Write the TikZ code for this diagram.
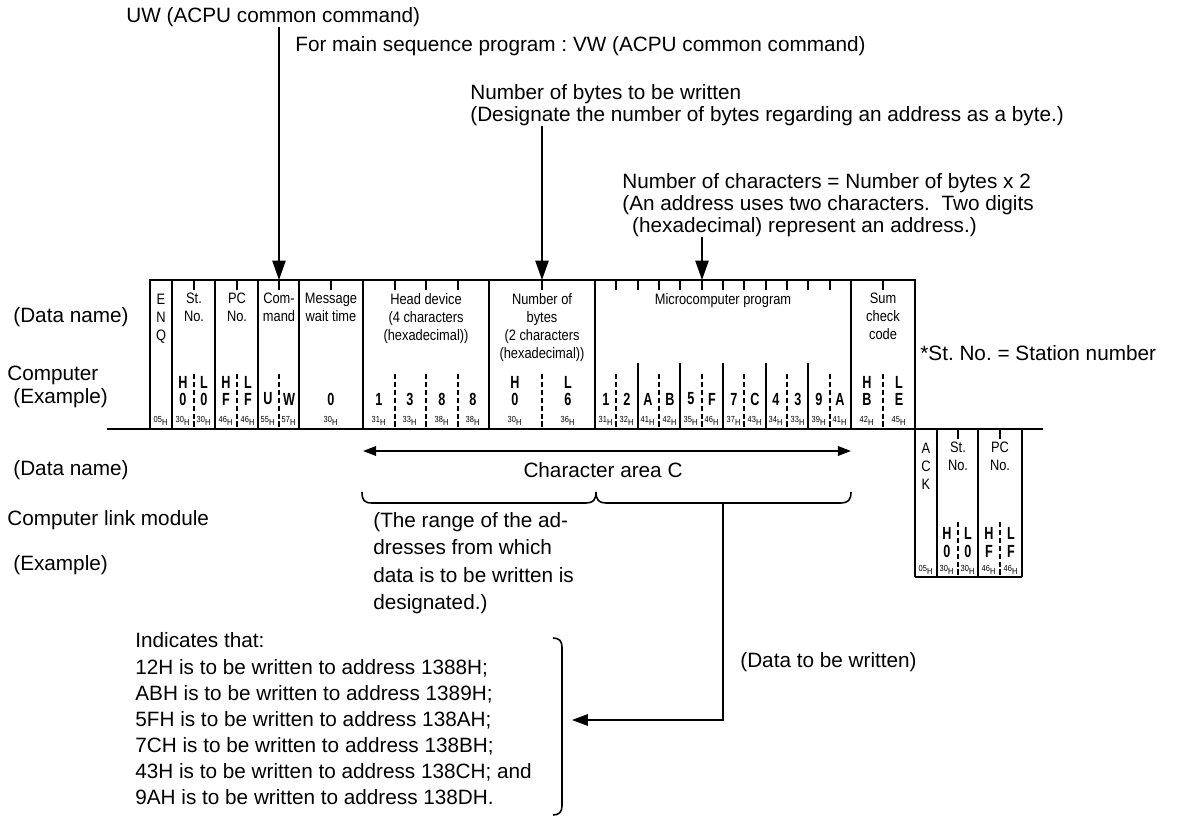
\documentclass[tikz,border=0pt]{standalone}
\usepackage{fontspec}
\setmainfont{Liberation Sans}
\newfontfamily\condfont[FakeStretch=0.85]{Liberation Sans}
\newfontfamily\narrowfont[FakeStretch=0.72]{Liberation Sans}
\usetikzlibrary{arrows.meta}
\frenchspacing

\newcommand{\hx}[1]{#1\textsubscript{H}}

\begin{document}
\begin{tikzpicture}[x=0.02cm,y=-0.02cm,
  lbl/.style={font=\fontsize{11.8}{12.5}\selectfont,anchor=west,inner sep=0pt,align=left},
  hdr/.style={font=\condfont\fontsize{8.6}{10.2}\selectfont,anchor=north,inner sep=0pt,align=center},
  ex/.style={font=\narrowfont\bfseries\fontsize{10}{10}\selectfont,inner sep=0pt},
  code/.style={font=\condfont\fontsize{5}{5}\selectfont,inner sep=0pt},
  frame/.style={line width=1.1pt},
  dsh/.style={line width=0.8pt,dash pattern=on 3pt off 1.5pt},
  bigtip/.style={-{Triangle[length=11pt,width=7.5pt]},line width=0.9pt}]
\useasboundingbox (0,0) rectangle (1179,820);

% notes above the message
\node[lbl] (uwcmd) at (126,17) {UW (ACPU common command)};
\node[lbl] (vwcmd) at (295,46) {For main sequence program : VW (ACPU common command)};
\node[lbl] (nbytes) at (470,105) {Number of bytes to be written\\(Designate the number of bytes regarding an address as a byte.)};
\node[lbl] (nchars) at (622,205) {Number of characters = Number of bytes x 2\\(An address uses two characters.\ \ Two digits\\\hspace*{5.6pt}(hexadecimal) represent an address.)};
\node[lbl] (stnote) at (920,353) {*St. No. = Station number};

\coordinate (cmdtop) at (279,280);
\coordinate (bytestop) at (542,280);
\coordinate (charstop) at (702,280);
\draw[bigtip] (uwcmd.south -| cmdtop) -- (cmdtop);
\draw[bigtip] (nbytes.south -| bytestop) -- (bytestop);
\draw[bigtip] (nchars.south -| charstop) -- (charstop);

% row labels
\node[lbl] (dn1) at (13,317) {(Data name)};
\node[lbl] (comp) at (7,375) {Computer};
\node[lbl] (ex1) at (13,398) {(Example)};
\node[lbl] (dn2) at (13,470) {(Data name)};
\node[lbl] (clm) at (7,520) {Computer link module};
\node[lbl] (ex2) at (13,565) {(Example)};

% computer side frame
\draw[frame] (150,429) -- (150,280) -- (915,280) -- (915,577);
\draw[frame] (107,429) -- (1043,429);
\foreach \x in {172,215,258,299,363,489,595,851}
  \draw[frame] (\x,280) -- (\x,429);
\foreach \x in {194,237,279,331,395,426,458,542,616,638,659,680,702,723,744,766,787,808,830,883}
  \draw[frame] (\x,280) -- (\x,290);
\foreach \x in {638,680,723,766,808}
  \draw[frame] (\x,363) -- (\x,429);
\foreach \x in {194,237,279,395,426,458,542,616,659,702,744,787,830,883}
  \draw[dsh] (\x,374) -- (\x,429);

% link module side frame
\draw[frame] (915,577) -- (1022,577);
\foreach \x in {937,978,1022}
  \draw[frame] (\x,429) -- (\x,577);
\foreach \x in {958,1000}
  \draw[frame] (\x,429) -- (\x,439);
\foreach \x in {958,1000}
  \draw[dsh] (\x,522) -- (\x,577);

% data names
\node[hdr] (enq) at (161,294) {E\\N\\Q};
\node[hdr] (stno) at (194,293) {St.\\No.};
\node[hdr] (pcno) at (237,293) {PC\\No.};
\node[hdr] (cmd) at (279,293) {Com-\\mand};
\node[hdr] (wait) at (331,293) {Message\\wait time};
\node[hdr] (head) at (426,293) {Head device\\(4 characters\\(hexadecimal))};
\node[hdr] (nbyt) at (542,293) {Number of\\bytes\\(2 characters\\(hexadecimal))};
\node[hdr] (prog) at (723,293) {Microcomputer program};
\node[hdr] (sum) at (883,293) {Sum\\check\\code};
\node[hdr] (ack) at (926,443) {A\\C\\K};
\node[hdr] (stno2) at (958,442) {St.\\No.};
\node[hdr] (pcno2) at (1000,442) {PC\\No.};

% example, computer side
\foreach \x/\c in {183/H,204/L,226/H,248/L,515/H,568/L,867/H,899/L}
  \node[ex] at (\x,382) {\c};
\foreach \x/\c/\h in {183/0/30,204/0/30,226/F/46,248/F/46,268/U/55,289/W/57,331/0/30,
    379/1/31,410/3/33,442/8/38,473/8/38,515/0/30,568/6/36,
    606/1/31,627/2/32,648/A/41,670/B/42,691/5/35,712/F/46,
    734/7/37,755/C/43,776/4/34,798/3/33,819/9/39,840/A/41,867/B/42,899/E/45}
{
  \node[ex] at (\x,399) {\c};
  \node[code] at (\x,421) {\hx{\h}};
}
\node[code] at (161,421) {\hx{05}};

% example, link module side
\foreach \x/\c in {947/H,968/L,989/H,1011/L}
  \node[ex] at (\x,533) {\c};
\foreach \x/\c/\h in {947/0/30,968/0/30,989/F/46,1011/F/46}
{
  \node[ex] at (\x,551) {\c};
  \node[code] at (\x,570) {\hx{\h}};
}
\node[code] at (926,570) {\hx{05}};

% character area C
\coordinate (cal) at (363,451);
\coordinate (car) at (851,451);
\draw[{Triangle[length=7.5pt,width=5.5pt]}-{Triangle[length=7.5pt,width=5.5pt]},line width=0.9pt] (cal) -- (car);
\node[font=\fontsize{11.8}{12.5}\selectfont,inner sep=0pt] (carea) at (603,470) {Character area C};

% brace under the character area
\draw[line width=0.9pt] (362,492) .. controls (362,500) and (364,503) .. (372,503) -- (586,503)
  .. controls (593,503) and (596,500) .. (596,492) .. controls (596,500) and (599,503) .. (606,503)
  -- (841,503) .. controls (848,503) and (851,500) .. (851,492);
\node[lbl,font=\fontsize{11.8}{15.6}\selectfont] (range) at (373,563) {(The range of the ad-\\dresses from which\\data is to be written is\\designated.)};

% data written
\coordinate (brdata) at (723,503);
\coordinate (bktip) at (572,720);
\draw[-{Triangle[length=9pt,width=6.5pt]},line width=0.9pt] (brdata) |- (bktip);
\node[lbl] (datawr) at (740,662) {(Data to be written)};

\node[lbl,font=\fontsize{11.8}{14.9}\selectfont] (indic) at (135,719) {Indicates that:\\12H is to be written to address 1388H;\\ABH is to be written to address 1389H;\\5FH is to be written to address 138AH;\\7CH is to be written to address 138BH;\\43H is to be written to address 138CH; and\\9AH is to be written to address 138DH.};
\draw[line width=0.9pt] (553,638) .. controls (559,638) and (562,641) .. (562,647) -- (562,806)
  .. controls (562,812) and (559,815) .. (553,815);
\end{tikzpicture}
\end{document}
